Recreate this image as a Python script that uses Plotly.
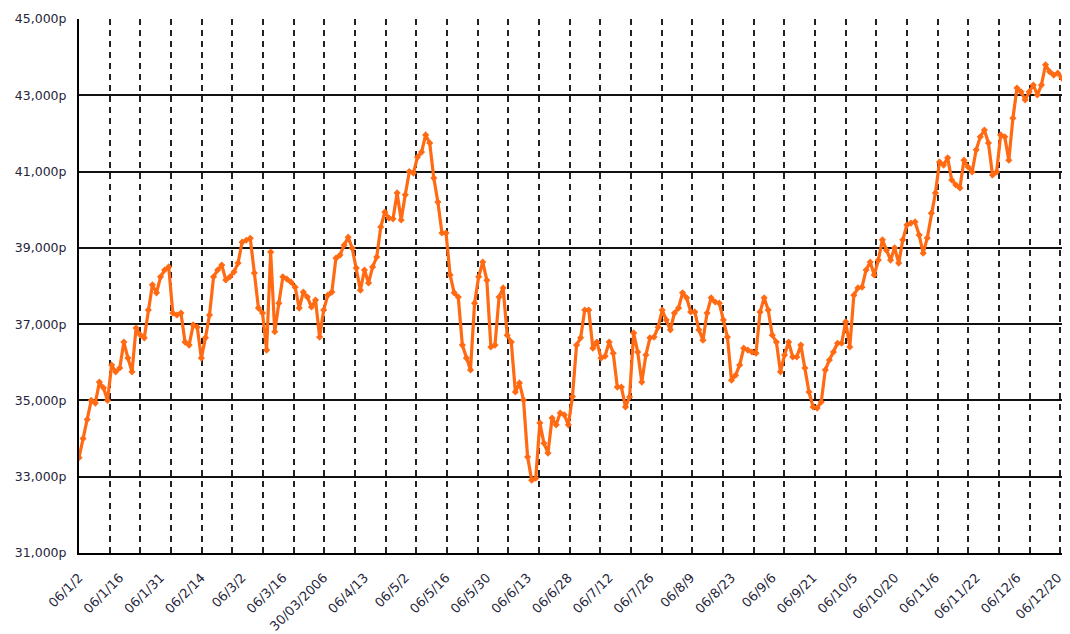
import plotly.graph_objects as go

# Daily closing values (trading-day index 0..243)
values = [
    33500, 34000, 34500, 35000, 34930, 35480, 35330, 35000, 35930, 35750,
    35850, 36530, 36110, 35750, 36900, 36720, 36640, 37370, 38030, 37820,
    38240, 38420, 38500, 37290, 37240, 37290, 36530, 36450, 36980, 36920,
    36110, 36640, 37240, 38240, 38420, 38550, 38160, 38240, 38370, 38600,
    39150, 39200, 39250, 38340, 37420, 37290, 36320, 38890, 36800, 37550,
    38240, 38180, 38100, 37970, 37420, 37840, 37710, 37450, 37630, 36660,
    37370, 37760, 37840, 38730, 38810, 39070, 39280, 38990, 38470, 37890,
    38420, 38080, 38500, 38760, 39550, 39940, 39780, 39760, 40440, 39730,
    40390, 41000, 40960, 41380, 41510, 41960, 41750, 40830, 40200, 39390,
    39390, 38290, 37820, 37710, 36450, 36110, 35800, 37550, 38240, 38630,
    38150, 36400, 36450, 37710, 37950, 36710, 36530, 35220, 35460, 35010,
    33520, 32910, 32960, 34410, 33880, 33620, 34540, 34360, 34670, 34620,
    34360, 35100, 36450, 36640, 37370, 37370, 36370, 36530, 36110, 36160,
    36530, 36240, 35350, 35350, 34830, 35090, 36770, 36270, 35480, 36190,
    36640, 36660, 36920, 37370, 37110, 36850, 37290, 37420, 37820, 37690,
    37320, 37320, 36850, 36580, 37290, 37690, 37580, 37550, 37110, 36660,
    35530, 35660, 35930, 36370, 36320, 36270, 36240, 37320, 37690, 37370,
    36710, 36530, 35750, 36190, 36530, 36140, 36140, 36450, 35850, 35220,
    34830, 34800, 34960, 35800, 36060, 36270, 36500, 36500, 37060, 36400,
    37760, 37950, 37970, 38420, 38630, 38290, 38680, 39210, 38940, 38680,
    39000, 38600, 39210, 39600, 39650, 39680, 39340, 38860, 39260, 39910,
    40440, 41250, 41170, 41360, 40780, 40650, 40570, 41300, 41120, 40990,
    41570, 41910, 42090, 41750, 40910, 40990, 41960, 41910, 41300, 42400,
    43190, 43090, 42880, 43090, 43270, 43010, 43270, 43800, 43620, 43530,
    43580, 43450, 43320, 44450,
]
day_index = list(range(len(values)))

# Tick labels (every 10 trading days)
tick_labels = [
    '06/1/2', '06/1/16', '06/1/31', '06/2/14', '06/3/2', '06/3/16',
    '30/03/2006', '06/4/13', '06/5/2', '06/5/16', '06/5/30', '06/6/13',
    '06/6/28', '06/7/12', '06/7/26', '06/8/9', '06/8/23', '06/9/6',
    '06/9/21', '06/10/5', '06/10/20', '06/11/6', '06/11/22', '06/12/6',
    '06/12/20',
]
tick_positions = [i * 10 for i in range(len(tick_labels))]
y_ticks = [31000, 33000, 35000, 37000, 39000, 41000, 43000, 45000]

fig = go.Figure()
fig.add_trace(go.Scatter(
    x=day_index, y=values, mode='lines+markers',
    line=dict(color='#FF6A13', width=3.2),
    marker=dict(color='#FF6A13', size=5.5, symbol='diamond'),
    hoverinfo='skip', showlegend=False,
))

# page body has an 8px default margin, so the figure is 8px smaller
fig.update_layout(
    width=1062, height=626,
    margin=dict(l=71, r=0, t=11, b=81, autoexpand=False),
    paper_bgcolor='white', plot_bgcolor='white',
    font=dict(family='DejaVu Sans, Verdana, sans-serif', size=13, color='#26263a'),
    xaxis=dict(
        range=[0, 243], automargin=False,
        tickmode='array', tickvals=tick_positions, ticktext=tick_labels,
        tickangle=-45, showgrid=False, zeroline=False,
        showline=True, linecolor='black', linewidth=2,
        ticks='', tickfont=dict(size=13), ticklabelstandoff=10,
        minor=dict(tickmode='linear', tick0=0, dtick=7.52, showgrid=True,
                   gridcolor='#222222', gridwidth=2, griddash='6px,5px', ticks=''),
    ),
    yaxis=dict(
        range=[31000, 45000], automargin=False, tickmode='array', tickvals=y_ticks,
        ticktext=[f'{v:,}p' for v in y_ticks],
        showgrid=True, gridcolor='#111111', gridwidth=1.6,
        zeroline=False, showline=True, linecolor='black', linewidth=2,
        ticks='', tickfont=dict(size=12.5), ticklabelstandoff=8,
    ),
)

fig.write_html('out.html', config={'displayModeBar': False})
